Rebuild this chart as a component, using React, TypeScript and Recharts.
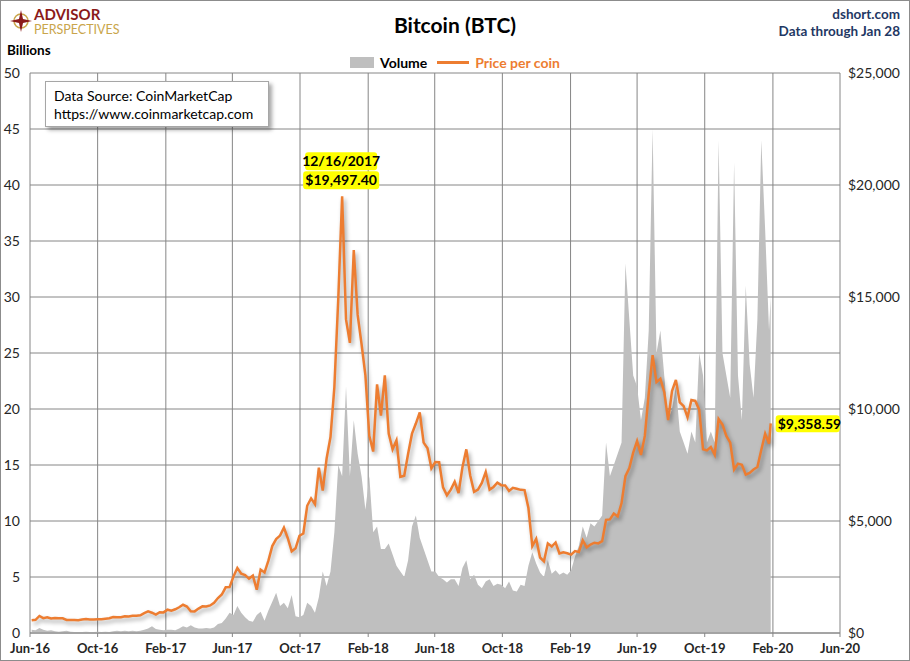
import React from "react";
import {
  ComposedChart,
  Area,
  Line,
  XAxis,
  YAxis,
  CartesianGrid,
  ReferenceDot,
} from "recharts";

// weekly samples (Saturdays) from Jun 4 2016, last point is Jan 28 2020
const START = Date.UTC(2016, 5, 4);
const WEEK = 7 * 24 * 3600 * 1000;
const LAST_DAY = Date.UTC(2020, 0, 28);
const PEAK_DAY = Date.UTC(2017, 11, 16);

// price per coin, USD
const price2016 = [
  570, 590, 760, 665, 700, 650, 665, 655, 655, 585, 585, 580, 570, 600, 622, 607,
  603, 613, 619, 638, 657, 715, 704, 705, 751, 735, 765, 772, 790, 890, 963,
];
const price2017 = [
  905, 820, 925, 920, 1040, 1000, 1060, 1150, 1260, 1180, 970, 965, 1090, 1190,
  1180, 1230, 1350, 1560, 1720, 2040, 2050, 2520, 2900, 2650, 2590, 2430, 2560,
  1930, 2830, 2700, 3230, 3880, 4190, 4350, 4700, 4230, 3640, 3780, 4340, 4440,
  5680, 6010, 5750, 7380, 6360, 7790, 8750, 10980, 14900, 19497.4, 14000, 12950,
];
const price2018 = [
  17100, 14200, 12900, 11500, 8800, 8100, 11100, 9700, 11500, 8900, 8200, 8600,
  6970, 7020, 8000, 8900, 9350, 9850, 8500, 8250, 7350, 7630, 7620, 6500, 6150,
  6400, 6750, 6250, 7400, 8200, 7030, 6300, 6400, 6700, 7190, 6400, 6520, 6710,
  6600, 6590, 6340, 6480, 6440, 6390, 6380, 5580, 3880, 4200, 3370, 3200, 4000,
  3860,
];
const price2019 = [
  4040, 3550, 3600, 3560, 3500, 3660, 3620, 4140, 3820, 3950, 4030, 4000, 4100,
  5050, 5070, 5330, 5200, 5800, 7000, 7360, 8050, 8570, 7950, 8800, 10700, 12400,
  11200, 11350, 10750, 9500, 10800, 11300, 10300, 10130, 9630, 10400, 10360, 9970,
  8200, 8150, 8300, 7960, 9550, 9300, 8800, 8500, 7300, 7560, 7510, 7070, 7150,
  7300,
];
const price2020 = [7410, 8170, 8900, 8450, 9358.59];

// volume, billions USD
const vol2016 = [
  0.3, 0.25, 0.45, 0.3, 0.2, 0.25, 0.15, 0.12, 0.15, 0.2, 0.12, 0.1, 0.1, 0.1,
  0.12, 0.1, 0.1, 0.12, 0.1, 0.12, 0.1, 0.15, 0.2, 0.15, 0.2, 0.15, 0.2, 0.15,
  0.2, 0.3, 0.4,
];
const vol2017 = [
  0.6, 0.35, 0.3, 0.25, 0.3, 0.3, 0.25, 0.4, 0.6, 0.5, 0.7, 0.5, 0.4, 0.4, 0.45,
  0.4, 0.5, 0.8, 0.9, 1.3, 1.8, 1.6, 2.4, 1.8, 1.4, 1.1, 1.0, 1.6, 1.9, 1.1, 2.0,
  2.8, 3.6, 2.4, 2.7, 2.2, 3.4, 1.5, 1.4, 1.6, 2.7, 2.4, 1.8, 3.2, 5.5, 4.2, 5.5,
  9, 15, 14, 22, 14,
];
const vol2018 = [
  19, 16, 14, 11, 14, 9, 9.5, 7.5, 7.5, 8, 7, 6, 5.5, 5, 6.5, 9.5, 10.5, 8.5,
  7.5, 6.5, 5.5, 5.5, 5, 4.8, 4.5, 4.8, 4.8, 4.2, 5.8, 6.5, 4.8, 5.2, 4.3, 4,
  4.6, 4.8, 4.2, 4.4, 4.3, 4, 4.6, 3.8, 3.7, 4.3, 4.2, 6, 7.2, 6.2, 5.4, 5,
  6.5, 5.3,
];
const vol2019 = [
  5.6, 5.2, 5.4, 5.2, 5.6, 6.8, 7.8, 9.5, 8.5, 9.8, 9.5, 10, 10.5, 17, 14, 15,
  16, 17, 33, 28, 23, 22, 19, 21, 27, 45, 25, 27, 23, 19, 20, 22, 18, 17, 16, 18,
  17, 25, 23, 17, 18, 17, 44, 25, 23, 21, 42, 23, 19, 31, 24, 21,
];
const vol2020 = [28, 44, 36, 27, 30];

const prices = [...price2016, ...price2017, ...price2018, ...price2019, ...price2020];
const volumes = [...vol2016, ...vol2017, ...vol2018, ...vol2019, ...vol2020];

const data = prices.map((p, i) => ({
  t: i < prices.length - 1 ? START + i * WEEK : LAST_DAY,
  price: p,
  volume: volumes[i],
}));

const xTickDates = [
  Date.UTC(2016, 5, 1), Date.UTC(2016, 9, 1), Date.UTC(2017, 1, 1),
  Date.UTC(2017, 5, 1), Date.UTC(2017, 9, 1), Date.UTC(2018, 1, 1),
  Date.UTC(2018, 5, 1), Date.UTC(2018, 9, 1), Date.UTC(2019, 1, 1),
  Date.UTC(2019, 5, 1), Date.UTC(2019, 9, 1), Date.UTC(2020, 1, 1),
  Date.UTC(2020, 5, 1),
];
const xTickLabels = [
  "Jun-16", "Oct-16", "Feb-17", "Jun-17", "Oct-17", "Feb-18", "Jun-18",
  "Oct-18", "Feb-19", "Jun-19", "Oct-19", "Feb-20", "Jun-20",
];
const volTicks = [0, 5, 10, 15, 20, 25, 30, 35, 40, 45, 50];
const priceTicks = [0, 5000, 10000, 15000, 20000, 25000];

const FONT = "Lato, 'Open Sans', sans-serif";
const GRID = "#868686";
const ORANGE = "#ED7D31";
const GREY = "#BFBFBF";
const NAVY = "#1F3864";

function PeakMarker({ cx, cy }: any) {
  return (
    <g fontFamily={FONT} fontWeight="bold" fontSize={14} fill="#000">
      <rect x={cx - 37} y={cy - 44} width={72} height={18} fill="#FFFF00" rx={3} />
      <text x={cx - 1} y={cy - 30} textAnchor="middle">12/16/2017</text>
      <rect x={cx - 39} y={cy - 25} width={76} height={18} fill="#FFFF00" rx={3} />
      <text x={cx - 1} y={cy - 11} textAnchor="middle">$19,497.40</text>
    </g>
  );
}

function LastMarker({ cx, cy }: any) {
  return (
    <g fontFamily={FONT} fontWeight="bold" fontSize={14} fill="#000">
      <rect x={cx + 5} y={cy - 8} width={64} height={17} fill="#FFFF00" rx={3} />
      <text x={cx + 7} y={cy + 6}>$9,358.59</text>
    </g>
  );
}

function Logo() {
  return (
    <svg width={140} height={42} style={{ position: "absolute", left: 8, top: 2 }}>
      <circle cx={13} cy={19} r={7} fill="none" stroke="#C9A54B" strokeWidth={1.5} />
      <path d="M13 8 L15 17 L24 19 L15 21 L13 30 L11 21 L2 19 L11 17 Z" fill="#8B1A1A" />
      <text x={26} y={18} fontFamily={FONT} fontWeight="bold" fontSize={15} fill="#8B1A1A">
        ADVISOR
      </text>
      <text x={26} y={32} fontFamily={FONT} fontSize={12.5} fill="#C9A54B">
        PERSPECTIVES
      </text>
    </svg>
  );
}

export default function App() {
  return (
    <div
      style={{
        position: "fixed",
        left: 0,
        top: 0,
        width: 910,
        height: 661,
        background: "#fff",
        fontFamily: FONT,
        overflow: "hidden",
      }}
    >
      <style>{`.price-line .recharts-line-curve { filter: drop-shadow(2px 3px 2px rgba(0,0,0,0.35)); }`}</style>
      <ComposedChart
        width={910}
        height={661}
        data={data}
        margin={{ top: 73, right: 0, bottom: 0, left: 0 }}
      >
        <CartesianGrid
          yAxisId="vol"
          stroke={GRID}
          strokeWidth={1}
          horizontalValues={volTicks}
          verticalValues={xTickDates}
        />
        <XAxis
          dataKey="t"
          type="number"
          domain={[xTickDates[0], xTickDates[xTickDates.length - 1]]}
          ticks={xTickDates}
          tickFormatter={(v: number) => xTickLabels[xTickDates.indexOf(v)] ?? ""}
          height={28}
          tickSize={4}
          tickMargin={7}
          stroke={GRID}
          tick={{ fontSize: 13, fontWeight: "bold", fill: "#262626", fontFamily: FONT }}
          interval={0}
        />
        <YAxis
          yAxisId="vol"
          domain={[0, 50]}
          ticks={volTicks}
          width={30}
          tickSize={0}
          tickMargin={10}
          axisLine={false}
          tickLine={false}
          tick={{ fontSize: 14, fill: "#262626", fontFamily: FONT }}
          interval={0}
        />
        <YAxis
          yAxisId="price"
          orientation="right"
          domain={[0, 25000]}
          ticks={priceTicks}
          width={70}
          tickSize={0}
          tickMargin={8}
          axisLine={false}
          tickLine={false}
          tickFormatter={(v: number) => "$" + v.toLocaleString("en-US")}
          tick={{ fontSize: 14, fill: "#262626", fontFamily: FONT, textAnchor: "start" }}
          interval={0}
        />
        <Area
          yAxisId="vol"
          dataKey="volume"
          type="linear"
          stroke="none"
          fill={GREY}
          fillOpacity={1}
          isAnimationActive={false}
        />
        <Line
          yAxisId="price"
          dataKey="price"
          type="linear"
          stroke={ORANGE}
          strokeWidth={2.5}
          dot={false}
          className="price-line"
          isAnimationActive={false}
        />
        <ReferenceDot
          yAxisId="price"
          x={PEAK_DAY}
          y={19497.4}
          r={0}
          shape={(p: any) => <PeakMarker {...p} />}
        />
        <ReferenceDot
          yAxisId="price"
          x={LAST_DAY}
          y={9358.59}
          r={0}
          shape={(p: any) => <LastMarker {...p} />}
        />
      </ComposedChart>

      <Logo />

      <div
        style={{
          position: "absolute",
          top: 12,
          left: 0,
          width: 910,
          textAlign: "center",
          fontSize: 21,
          fontWeight: "bold",
          color: "#000",
        }}
      >
        Bitcoin (BTC)
      </div>

      <div style={{ position: "absolute", right: 10, top: 6, textAlign: "right", color: NAVY, fontWeight: "bold", fontSize: 13.5, lineHeight: "17px" }}>
        <div>dshort.com</div>
        <div>Data through Jan 28</div>
      </div>

      <div style={{ position: "absolute", left: 7, top: 42, fontSize: 13.5, fontWeight: "bold", color: "#000" }}>
        Billions
      </div>

      <div
        style={{
          position: "absolute",
          top: 54,
          left: 0,
          width: 910,
          display: "flex",
          justifyContent: "center",
          alignItems: "center",
          fontSize: 14,
          fontWeight: "bold",
        }}
      >
        <span style={{ display: "inline-block", width: 24, height: 11, background: GREY, marginRight: 6 }} />
        <span style={{ color: "#000", marginRight: 10 }}>Volume</span>
        <span style={{ display: "inline-block", width: 32, height: 3, background: ORANGE, marginRight: 6 }} />
        <span style={{ color: ORANGE }}>Price per coin</span>
      </div>

      <div
        style={{
          position: "absolute",
          left: 45,
          top: 81,
          width: 224,
          height: 46,
          background: "#fff",
          border: "1px solid #A6A6A6",
          boxShadow: "3px 3px 4px rgba(0,0,0,0.35)",
          fontSize: 14,
          lineHeight: "18px",
          color: "#000",
          padding: "5px 0 0 8px",
          boxSizing: "border-box",
        }}
      >
        <div>Data Source: CoinMarketCap</div>
        <div>https://www.coinmarketcap.com</div>
      </div>

      <div
        style={{
          position: "absolute",
          left: 0,
          top: 0,
          width: 910,
          height: 661,
          border: "1px solid #8C8C8C",
          boxSizing: "border-box",
          pointerEvents: "none",
        }}
      />
    </div>
  );
}
